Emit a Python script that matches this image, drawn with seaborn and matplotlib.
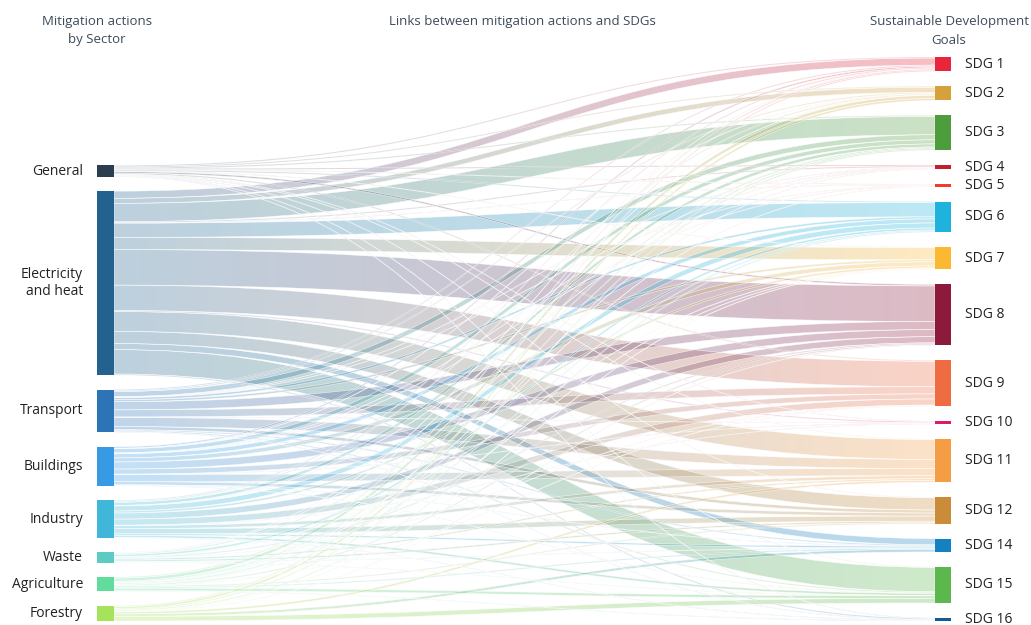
import numpy as np
import matplotlib
matplotlib.use("Agg")
import matplotlib.pyplot as plt
import seaborn as sns
from matplotlib.path import Path
from matplotlib.patches import PathPatch, Rectangle
from matplotlib.colors import to_rgb

# ---- data -------------------------------------------------------------
sectors = ["General", "Electricity\nand heat", "Transport", "Buildings",
           "Industry", "Waste", "Agriculture", "Forestry"]
sector_colors = ["#2b3e50", "#23628f", "#2d74b7", "#379ae2",
                 "#40b6d8", "#5ccbc4", "#62dc9c", "#a4e35a"]

sdgs = ["SDG 1", "SDG 2", "SDG 3", "SDG 4", "SDG 5", "SDG 6", "SDG 7", "SDG 8",
        "SDG 9", "SDG 10", "SDG 11", "SDG 12", "SDG 14", "SDG 15", "SDG 16"]
sdg_colors = ["#e8253b", "#d5a13a", "#4e9d3c", "#c2202f", "#f23c2a", "#1fb2dc",
              "#fbb833", "#8c1a3b", "#ef6c42", "#dc1a6a", "#f59d45", "#ca8c38",
              "#1481c1", "#5cb84c", "#155b8d"]

# number of links from each sector to SDG 1 ... SDG 16
links_general     = [1, 1, 1, 1, 0.5, 1, 0.5, 1.5, 1, 0.5, 0.5, 0.5, 0, 0.5, 0.5]
links_electricity = [7, 5, 18, 1, 0.5, 14, 12, 35, 25, 1, 19.5, 12, 6, 24, 1]
links_transport   = [1, 1, 5, 0.5, 0.5, 2, 2, 8, 7, 0.5, 9, 3, 1, 1, 0.5]
links_buildings   = [1.5, 0.5, 4, 0.5, 0.5, 4, 4, 7, 5, 0.5, 7, 3, 0.5, 0.5, 0]
links_industry    = [1, 1, 3, 0.5, 0, 5, 2, 6, 6, 0.5, 3, 5, 1.5, 2, 0.5]
links_waste       = [0.5, 0.5, 1, 0, 0, 2, 0.5, 1, 0.5, 0, 1.5, 1.5, 0.5, 0.5, 0]
links_agriculture = [1, 3, 1, 0.5, 0.5, 1, 0.5, 1, 0.5, 0, 0, 1, 1, 2.5, 0.5]
links_forestry    = [1, 2, 1, 0, 0, 1, 0.5, 0.5, 0, 0, 2, 0, 2.5, 4.5, 0]

flows = np.array([links_general, links_electricity, links_transport,
                  links_buildings, links_industry, links_waste,
                  links_agriculture, links_forestry], dtype=float)

# ---- layout -----------------------------------------------------------
W, H = 1031, 625
pad = 15
y_top, y_bottom = 57, 621
left_x0, left_x1 = 97, 114
right_x0, right_x1 = 935, 951

src_tot = flows.sum(axis=1)
tgt_tot = flows.sum(axis=0)
scale = (y_bottom - y_top - pad * (len(sdgs) - 1)) / tgt_tot.sum()


def stack(totals, bottom, gap):
    heights = totals * scale
    span = heights.sum() + gap * (len(totals) - 1)
    tops = bottom - span + np.concatenate([[0], np.cumsum(heights[:-1] + gap)])
    return tops, heights


src_top, src_h = stack(src_tot, y_bottom, pad - 0.5)
tgt_top, tgt_h = stack(tgt_tot, y_bottom, pad)

sns.set_theme(style="white")
plt.rcParams["font.family"] = ["Open Sans", "DejaVu Sans"]

fig = plt.figure(figsize=(W / 100, H / 100), dpi=100)
ax = fig.add_axes([0, 0, 1, 1])
ax.set_xlim(0, W)
ax.set_ylim(H, 0)
ax.axis("off")

# ---- links (gradient from sector colour to SDG colour) ----------------
# target-side offsets: ordered by source
tgt_pos = np.zeros_like(flows)
for j in range(len(sdgs)):
    y = tgt_top[j]
    for i in range(len(sectors)):
        tgt_pos[i, j] = y
        y += flows[i, j] * scale

xa, xb = left_x1, right_x0
xm = (xa + xb) / 2
alpha = 0.30
n_grad = 64
tvals = np.linspace(0, 1, n_grad)

for i in range(len(sectors)):
    y_src = src_top[i]
    c0 = np.array(to_rgb(sector_colors[i]))
    for j in range(len(sdgs)):
        v = flows[i, j]
        if v <= 0:
            continue
        h = v * scale
        s0, s1 = y_src, y_src + h
        t0, t1 = tgt_pos[i, j], tgt_pos[i, j] + h
        y_src += h
        verts = [(xa, s0), (xm, s0), (xm, t0), (xb, t0),
                 (xb, t1), (xm, t1), (xm, s1), (xa, s1), (xa, s0)]
        codes = [Path.MOVETO, Path.CURVE4, Path.CURVE4, Path.CURVE4,
                 Path.LINETO, Path.CURVE4, Path.CURVE4, Path.CURVE4,
                 Path.CLOSEPOLY]
        path = Path(verts, codes)
        c1 = np.array(to_rgb(sdg_colors[j]))
        grad = np.zeros((1, n_grad, 4))
        grad[0, :, :3] = c0[None, :] * (1 - tvals[:, None]) + c1[None, :] * tvals[:, None]
        grad[0, :, 3] = alpha
        patch = PathPatch(path, facecolor="none", edgecolor="none")
        ax.add_patch(patch)
        im = ax.imshow(grad, extent=(xa, xb, H, 0), aspect="auto",
                       interpolation="bilinear", zorder=1)
        im.set_clip_path(patch)
        ax.add_patch(PathPatch(path, facecolor="none", edgecolor="white",
                               lw=0.4, alpha=0.75, zorder=1.5))

ax.set_xlim(0, W)
ax.set_ylim(H, 0)

# ---- nodes ------------------------------------------------------------
for i, name in enumerate(sectors):
    ax.add_patch(Rectangle((left_x0, src_top[i]), left_x1 - left_x0, src_h[i],
                           facecolor=sector_colors[i], edgecolor="none", zorder=3))
    ax.text(83, src_top[i] + src_h[i] / 2, name, ha="right", va="center",
            fontsize=10, color="#222222", linespacing=1.25, zorder=4)

for j, name in enumerate(sdgs):
    ax.add_patch(Rectangle((right_x0, tgt_top[j]), right_x1 - right_x0,
                           max(tgt_h[j], 1.5), facecolor=sdg_colors[j],
                           edgecolor="none", zorder=3))
    ax.text(965, tgt_top[j] + tgt_h[j] / 2, name, ha="left", va="center",
            fontsize=10, color="#222222", zorder=4)

# ---- column headers ---------------------------------------------------
hdr = dict(ha="center", va="center", fontsize=9.5, color="#3d4b5a", linespacing=1.5)
ax.text(97, 31, "Mitigation actions\nby Sector", **hdr)
ax.text(522, 21, "Links between mitigation actions and SDGs", **hdr)
ax.text(949, 31, "Sustainable Development\nGoals", **hdr)

fig.savefig("out.png", dpi=100, facecolor="white")
